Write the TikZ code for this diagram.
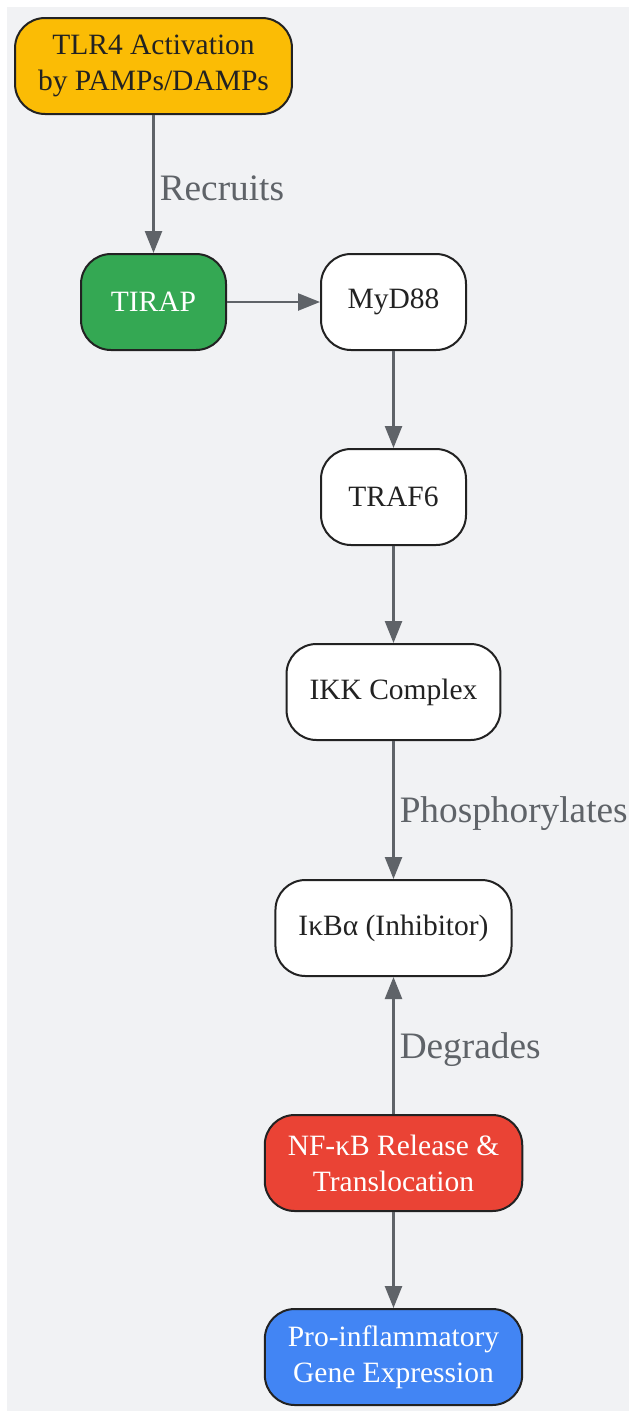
\documentclass[tikz,border=0pt]{standalone}
\usepackage{fontspec}
\setmainfont{Liberation Serif}
\usetikzlibrary{positioning, arrows.meta}
\definecolor{bggray}{HTML}{F1F2F4}
\definecolor{edgegray}{HTML}{5F6368}
\definecolor{gyellow}{HTML}{FBBC05}
\definecolor{ggreen}{HTML}{34A853}
\definecolor{gred}{HTML}{EA4335}
\definecolor{gblue}{HTML}{4285F4}
\definecolor{ink}{HTML}{222222}
\tikzset{
box/.style={draw=ink, line width=2pt, rounded corners=30pt, fill=white, text=ink, minimum width=145pt, minimum height=96pt, inner xsep=23pt, align=center, font=\fontsize{29.5}{36}\selectfont}, % every step of the pathway
flow/.style={draw=edgegray, line width=2.5pt, -{Triangle[length=22pt,width=17pt]}}, % the connecting arrows
lbl/.style={right, inner sep=5pt, yshift=-4pt, text=edgegray, font=\fontsize{37.3}{44}\selectfont}, % text on the arrows
node distance=97pt, % gap between unlabelled steps
}

\begin{document}
\begin{tikzpicture}
\useasboundingbox (0,0) rectangle (629pt,-1411pt);
\fill[bggray] (7pt,-7pt) rectangle (629pt,-1411pt);
\node[box, fill=gyellow] (tlr4) at (153.5pt,-66pt) {TLR4 Activation\\by PAMPs/DAMPs};
\node[box, fill=ggreen, text=white, below=138pt of tlr4] (tirap) {TIRAP};
\node[box, right=93pt of tirap] (myd88) {MyD88};
\node[box, below=of myd88] (traf6) {TRAF6};
\node[box, below=of traf6] (ikk) {IKK Complex};
\node[box, below=138pt of ikk] (ikba) {IκBα (Inhibitor)};
\node[box, fill=gred, text=white, below=137pt of ikba] (nfkb) {NF-κB Release \&\\Translocation};
\node[box, fill=gblue, text=white, below=96pt of nfkb] (genes) {Pro-inflammatory\\Gene Expression};
\draw[flow] (tlr4) -- node[lbl] {Recruits} (tirap);
\draw[flow] (tirap) -- (myd88);
\draw[flow] (myd88) -- (traf6);
\draw[flow] (traf6) -- (ikk);
\draw[flow] (ikk) -- node[lbl] {Phosphorylates} (ikba);
\draw[flow] (nfkb) -- node[lbl] {Degrades} (ikba);
\draw[flow] (nfkb) -- (genes);
\end{tikzpicture}
\end{document}
